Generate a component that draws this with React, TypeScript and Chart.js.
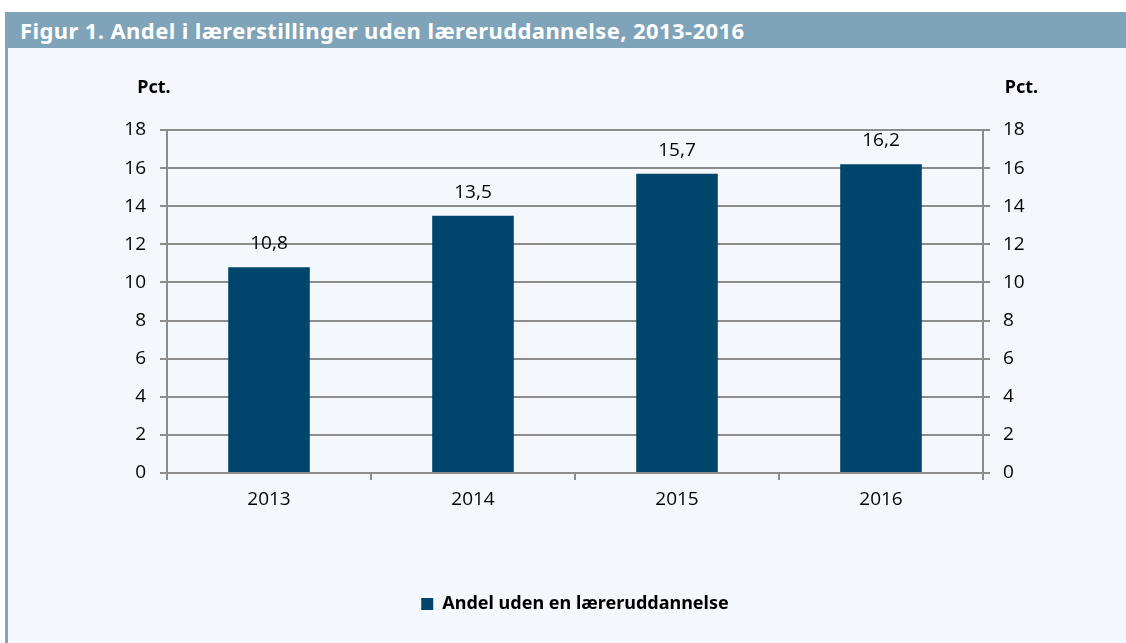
import React, { useEffect, useRef } from "react";
import { Chart, registerables } from "chart.js";

Chart.register(...registerables);

const TITLE = "Figur 1. Andel i lærerstillinger uden læreruddannelse, 2013-2016";
const CATEGORIES = ["2013", "2014", "2015", "2016"];
const VALUES = [10.8, 13.5, 15.7, 16.2];
const SERIES_LABEL = "Andel uden en læreruddannelse";
const AXIS_UNIT = "Pct.";
const Y_MIN = 0;
const Y_MAX = 18;
const Y_STEP = 2;

const BAR_COLOR = "#00456c";
const GRID_COLOR = "#8c8c8c";
const HEADER_COLOR = "#7fa3b8";
const PANEL_BG = "#f4f8fc";
const REG_FONT = "'Open Sans', sans-serif";
const BOLD_FONT = "'Noto Sans', 'Open Sans', sans-serif";

const fmt = (v: number) => v.toFixed(1).replace(".", ",");

const extrasPlugin = {
  id: "extras",
  afterDatasetsDraw(chart: any) {
    const { ctx, chartArea } = chart;
    ctx.save();
    ctx.fillStyle = "#000";
    ctx.font = `19px ${REG_FONT}`;
    ctx.textAlign = "center";
    ctx.textBaseline = "alphabetic";
    const meta = chart.getDatasetMeta(0);
    meta.data.forEach((bar: any, i: number) => {
      ctx.fillText(fmt(VALUES[i]), bar.x, bar.y - 18);
    });
    ctx.font = `bold 18px ${BOLD_FONT}`;
    ctx.textBaseline = "middle";
    ctx.fillText(AXIS_UNIT, chartArea.left - 13, 40);
    ctx.fillText(AXIS_UNIT, chartArea.right + 38.5, 40);
    ctx.restore();
  },
};

function ChartView() {
  const ref = useRef<HTMLCanvasElement | null>(null);
  useEffect(() => {
    if (!ref.current) return;
    const grid = { color: GRID_COLOR, lineWidth: 2, tickLength: 7 };
    const tickFont = { family: REG_FONT, size: 19 };
    const chart = new Chart(ref.current, {
      type: "bar",
      data: {
        labels: CATEGORIES,
        datasets: [
          {
            label: SERIES_LABEL,
            data: VALUES,
            backgroundColor: BAR_COLOR,
            borderWidth: 0,
            categoryPercentage: 1,
            barPercentage: 0.4,
            yAxisID: "y",
          },
        ],
      },
      options: {
        animation: false,
        responsive: false,
        maintainAspectRatio: false,
        layout: { padding: { top: 82, left: 0, right: 63, bottom: 20 } },
        plugins: {
          tooltip: { enabled: false },
          legend: {
            position: "bottom",
            fullSize: false,
            labels: {
              boxWidth: 12,
              boxHeight: 12,
              padding: 10,
              color: "#000",
              font: { family: BOLD_FONT, size: 18, weight: "bold" },
            },
          },
        },
        scales: {
          x: {
            grid: { ...grid, drawOnChartArea: false, offset: true },
            border: { color: GRID_COLOR, width: 2 },
            ticks: { color: "#000", font: tickFont, padding: 8 },
            afterFit: (s: any) => {
              s.height = 112;
            },
          },
          y: {
            position: "left",
            min: Y_MIN,
            max: Y_MAX,
            grid: { ...grid },
            border: { color: GRID_COLOR, width: 2 },
            ticks: { stepSize: Y_STEP, color: "#000", font: tickFont, padding: 14 },
            afterFit: (s: any) => {
              s.width = 159;
            },
          },
          y2: {
            position: "right",
            min: Y_MIN,
            max: Y_MAX,
            grid: { ...grid, drawOnChartArea: false },
            border: { color: GRID_COLOR, width: 2 },
            ticks: { stepSize: Y_STEP, color: "#000", font: tickFont, padding: 13 },
            afterFit: (s: any) => {
              s.width = 80;
            },
          },
        },
      },
      plugins: [extrasPlugin],
    } as any);
    return () => chart.destroy();
  }, []);
  return <canvas ref={ref} width={1118} height={595} style={{ display: "block" }} />;
}

export default function App() {
  return (
    <div style={{ position: "absolute", left: 0, top: 0, width: 1126, height: 643, background: "#fff", overflow: "hidden" }}>
      <div
        style={{
          position: "absolute",
          left: 5,
          top: 12,
          width: 1121,
          height: 36,
          background: HEADER_COLOR,
          color: "#fff",
          fontFamily: BOLD_FONT,
          fontWeight: "bold",
          fontSize: 22,
          letterSpacing: "0.4px",
          lineHeight: "36px",
          paddingLeft: 15,
          boxSizing: "border-box",
          whiteSpace: "nowrap",
        }}
      >
        {TITLE}
      </div>
      <div style={{ position: "absolute", left: 5, top: 48, width: 3, height: 595, background: HEADER_COLOR }} />
      <div style={{ position: "absolute", left: 8, top: 48, width: 1118, height: 595, background: PANEL_BG }}>
        <ChartView />
      </div>
    </div>
  );
}
